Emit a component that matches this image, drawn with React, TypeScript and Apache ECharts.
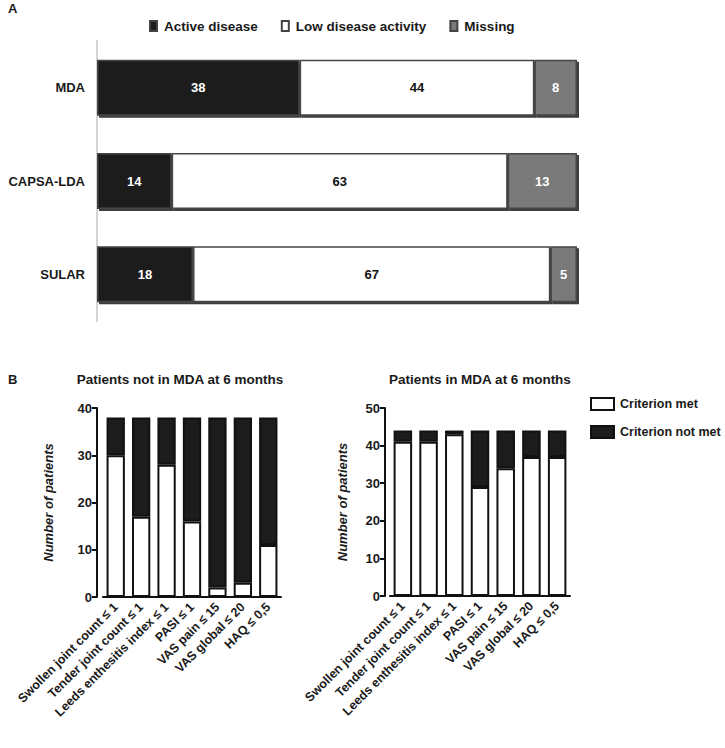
import React, { useEffect, useRef } from "react";
import * as echarts from "echarts";

const topCategories = ["MDA", "CAPSA-LDA", "SULAR"];
const activeDisease = [38, 14, 18];
const lowActivity = [44, 63, 67];
const missing = [8, 13, 5];

const criteria = [
  "Swollen joint count \u2264 1",
  "Tender joint count \u2264 1",
  "Leeds enthesitis index \u2264 1",
  "PASI \u2264 1",
  "VAS pain \u2264 15",
  "VAS global \u2264 20",
  "HAQ \u2264 0,5",
];
const notMdaMet = [30, 17, 28, 16, 2, 3, 11];
const notMdaNotMet = [8, 21, 10, 22, 36, 35, 27];
const mdaMet = [41, 41, 43, 29, 34, 37, 37];
const mdaNotMet = [3, 3, 1, 15, 10, 7, 7];

const FONT = "'Liberation Sans', Arial, sans-serif";
const DARK = "#1c1c1c";

export default function App() {
  const ref = useRef<HTMLDivElement>(null);
  useEffect(() => {
    document.body.style.margin = "0";
    const chart = echarts.init(ref.current!, null, { renderer: "svg" });
    const txt = { fontFamily: FONT, fontWeight: "bold" as const, fontSize: 13, color: "#1a1a1a" };

    const topBarStyle = (color: string) => ({
      color,
      borderColor: "#444",
      borderWidth: 1.5,
      shadowColor: "rgba(40,40,40,0.9)",
      shadowOffsetX: 2,
      shadowOffsetY: 2,
      shadowBlur: 0,
    });
    const botStyle = (color: string) => ({ color, borderColor: "#111", borderWidth: 2 });

    const bottomX = (gi: number) => ({
      type: "category",
      gridIndex: gi,
      data: criteria,
      axisLine: { lineStyle: { color: "#111", width: 2 } },
      axisTick: { alignWithLabel: true, length: 5, lineStyle: { color: "#111", width: 2 } },
      axisLabel: { ...txt, fontSize: 12.5, rotate: 45, interval: 0, margin: 8 },
    });
    const bottomY = (gi: number, max: number, gap: number, offset: number) => ({
      type: "value",
      gridIndex: gi,
      min: 0,
      max,
      interval: 10,
      offset,
      name: "Number of patients",
      nameLocation: "middle",
      nameGap: gap,
      nameTextStyle: { ...txt, fontStyle: "italic", fontSize: 13 },
      axisLine: { show: true, lineStyle: { color: "#111", width: 2 } },
      axisTick: { show: true, length: 5, lineStyle: { color: "#111", width: 2 } },
      axisLabel: { ...txt, margin: 5 },
      splitLine: { show: false },
    });

    chart.setOption({
      animation: false,
      textStyle: { fontFamily: FONT },
      grid: [
        { left: 97, width: 480, top: 41, height: 280 },
        { left: 103, width: 178, top: 408, height: 189 },
        { left: 390, width: 180, top: 408, height: 188 },
      ],
      legend: [
        {
          data: ["Active disease", "Low disease activity", "Missing"],
          left: 144,
          top: 14,
          itemWidth: 7,
          itemHeight: 10,
          itemGap: 23,
          icon: "rect",
          textStyle: { ...txt, fontSize: 13.5, padding: [0, 0, 0, 2] },
        },
        {
          data: ["Criterion met", "Criterion not met"],
          orient: "vertical",
          left: 585,
          top: 392,
          itemWidth: 23,
          itemHeight: 12,
          itemGap: 14,
          icon: "rect",
          textStyle: { ...txt, fontSize: 12.5, padding: [0, 0, 0, 1] },
        },
      ],
      xAxis: [
        { type: "value", gridIndex: 0, min: 0, max: 90, show: false },
        bottomX(1),
        bottomX(2),
      ],
      yAxis: [
        {
          type: "category",
          gridIndex: 0,
          data: topCategories,
          inverse: true,
          axisLine: { lineStyle: { color: "#d4d4d4", width: 2 } },
          axisTick: { show: false },
          axisLabel: { ...txt, margin: 12 },
        },
        bottomY(1, 40, 42, 6),
        bottomY(2, 50, 36, 5),
      ],
      series: [
        {
          name: "Active disease",
          type: "bar",
          stack: "top",
          xAxisIndex: 0,
          yAxisIndex: 0,
          barCategoryGap: "40%",
          data: activeDisease,
          itemStyle: topBarStyle(DARK),
          label: { show: true, position: "inside", ...txt, color: "#fff" },
        },
        {
          name: "Low disease activity",
          type: "bar",
          stack: "top",
          xAxisIndex: 0,
          yAxisIndex: 0,
          data: lowActivity,
          itemStyle: topBarStyle("#ffffff"),
          label: { show: true, position: "inside", ...txt, color: "#111" },
        },
        {
          name: "Missing",
          type: "bar",
          stack: "top",
          xAxisIndex: 0,
          yAxisIndex: 0,
          data: missing,
          itemStyle: topBarStyle("#7a7a7a"),
          label: { show: true, position: "inside", ...txt, color: "#fff" },
        },
        {
          name: "Criterion met",
          type: "bar",
          stack: "l",
          xAxisIndex: 1,
          yAxisIndex: 1,
          barWidth: "72%",
          data: notMdaMet,
          itemStyle: botStyle("#ffffff"),
        },
        {
          name: "Criterion not met",
          type: "bar",
          stack: "l",
          xAxisIndex: 1,
          yAxisIndex: 1,
          barWidth: "72%",
          data: notMdaNotMet,
          itemStyle: botStyle(DARK),
        },
        {
          name: "Criterion met",
          type: "bar",
          stack: "r",
          xAxisIndex: 2,
          yAxisIndex: 2,
          barWidth: "72%",
          data: mdaMet,
          itemStyle: botStyle("#ffffff"),
        },
        {
          name: "Criterion not met",
          type: "bar",
          stack: "r",
          xAxisIndex: 2,
          yAxisIndex: 2,
          barWidth: "72%",
          data: mdaNotMet,
          itemStyle: botStyle(DARK),
        },
      ],
      graphic: [
        { type: "text", x: 8, y: 2, style: { text: "A", font: `bold 13px ${FONT}`, fill: "#1a1a1a" } },
        { type: "text", x: 8, y: 373, style: { text: "B", font: `bold 13px ${FONT}`, fill: "#1a1a1a" } },
        {
          type: "text",
          x: 180,
          y: 379,
          style: {
            text: "Patients not in MDA at 6 months",
            font: `bold 13.5px ${FONT}`,
            fill: "#1a1a1a",
            textAlign: "center",
            textVerticalAlign: "middle",
          },
        },
        {
          type: "text",
          x: 480,
          y: 379,
          style: {
            text: "Patients in MDA at 6 months",
            font: `bold 13.5px ${FONT}`,
            fill: "#1a1a1a",
            textAlign: "center",
            textVerticalAlign: "middle",
          },
        },
      ],
    });
    return () => chart.dispose();
  }, []);
  return <div ref={ref} style={{ width: 725, height: 748 }} />;
}
